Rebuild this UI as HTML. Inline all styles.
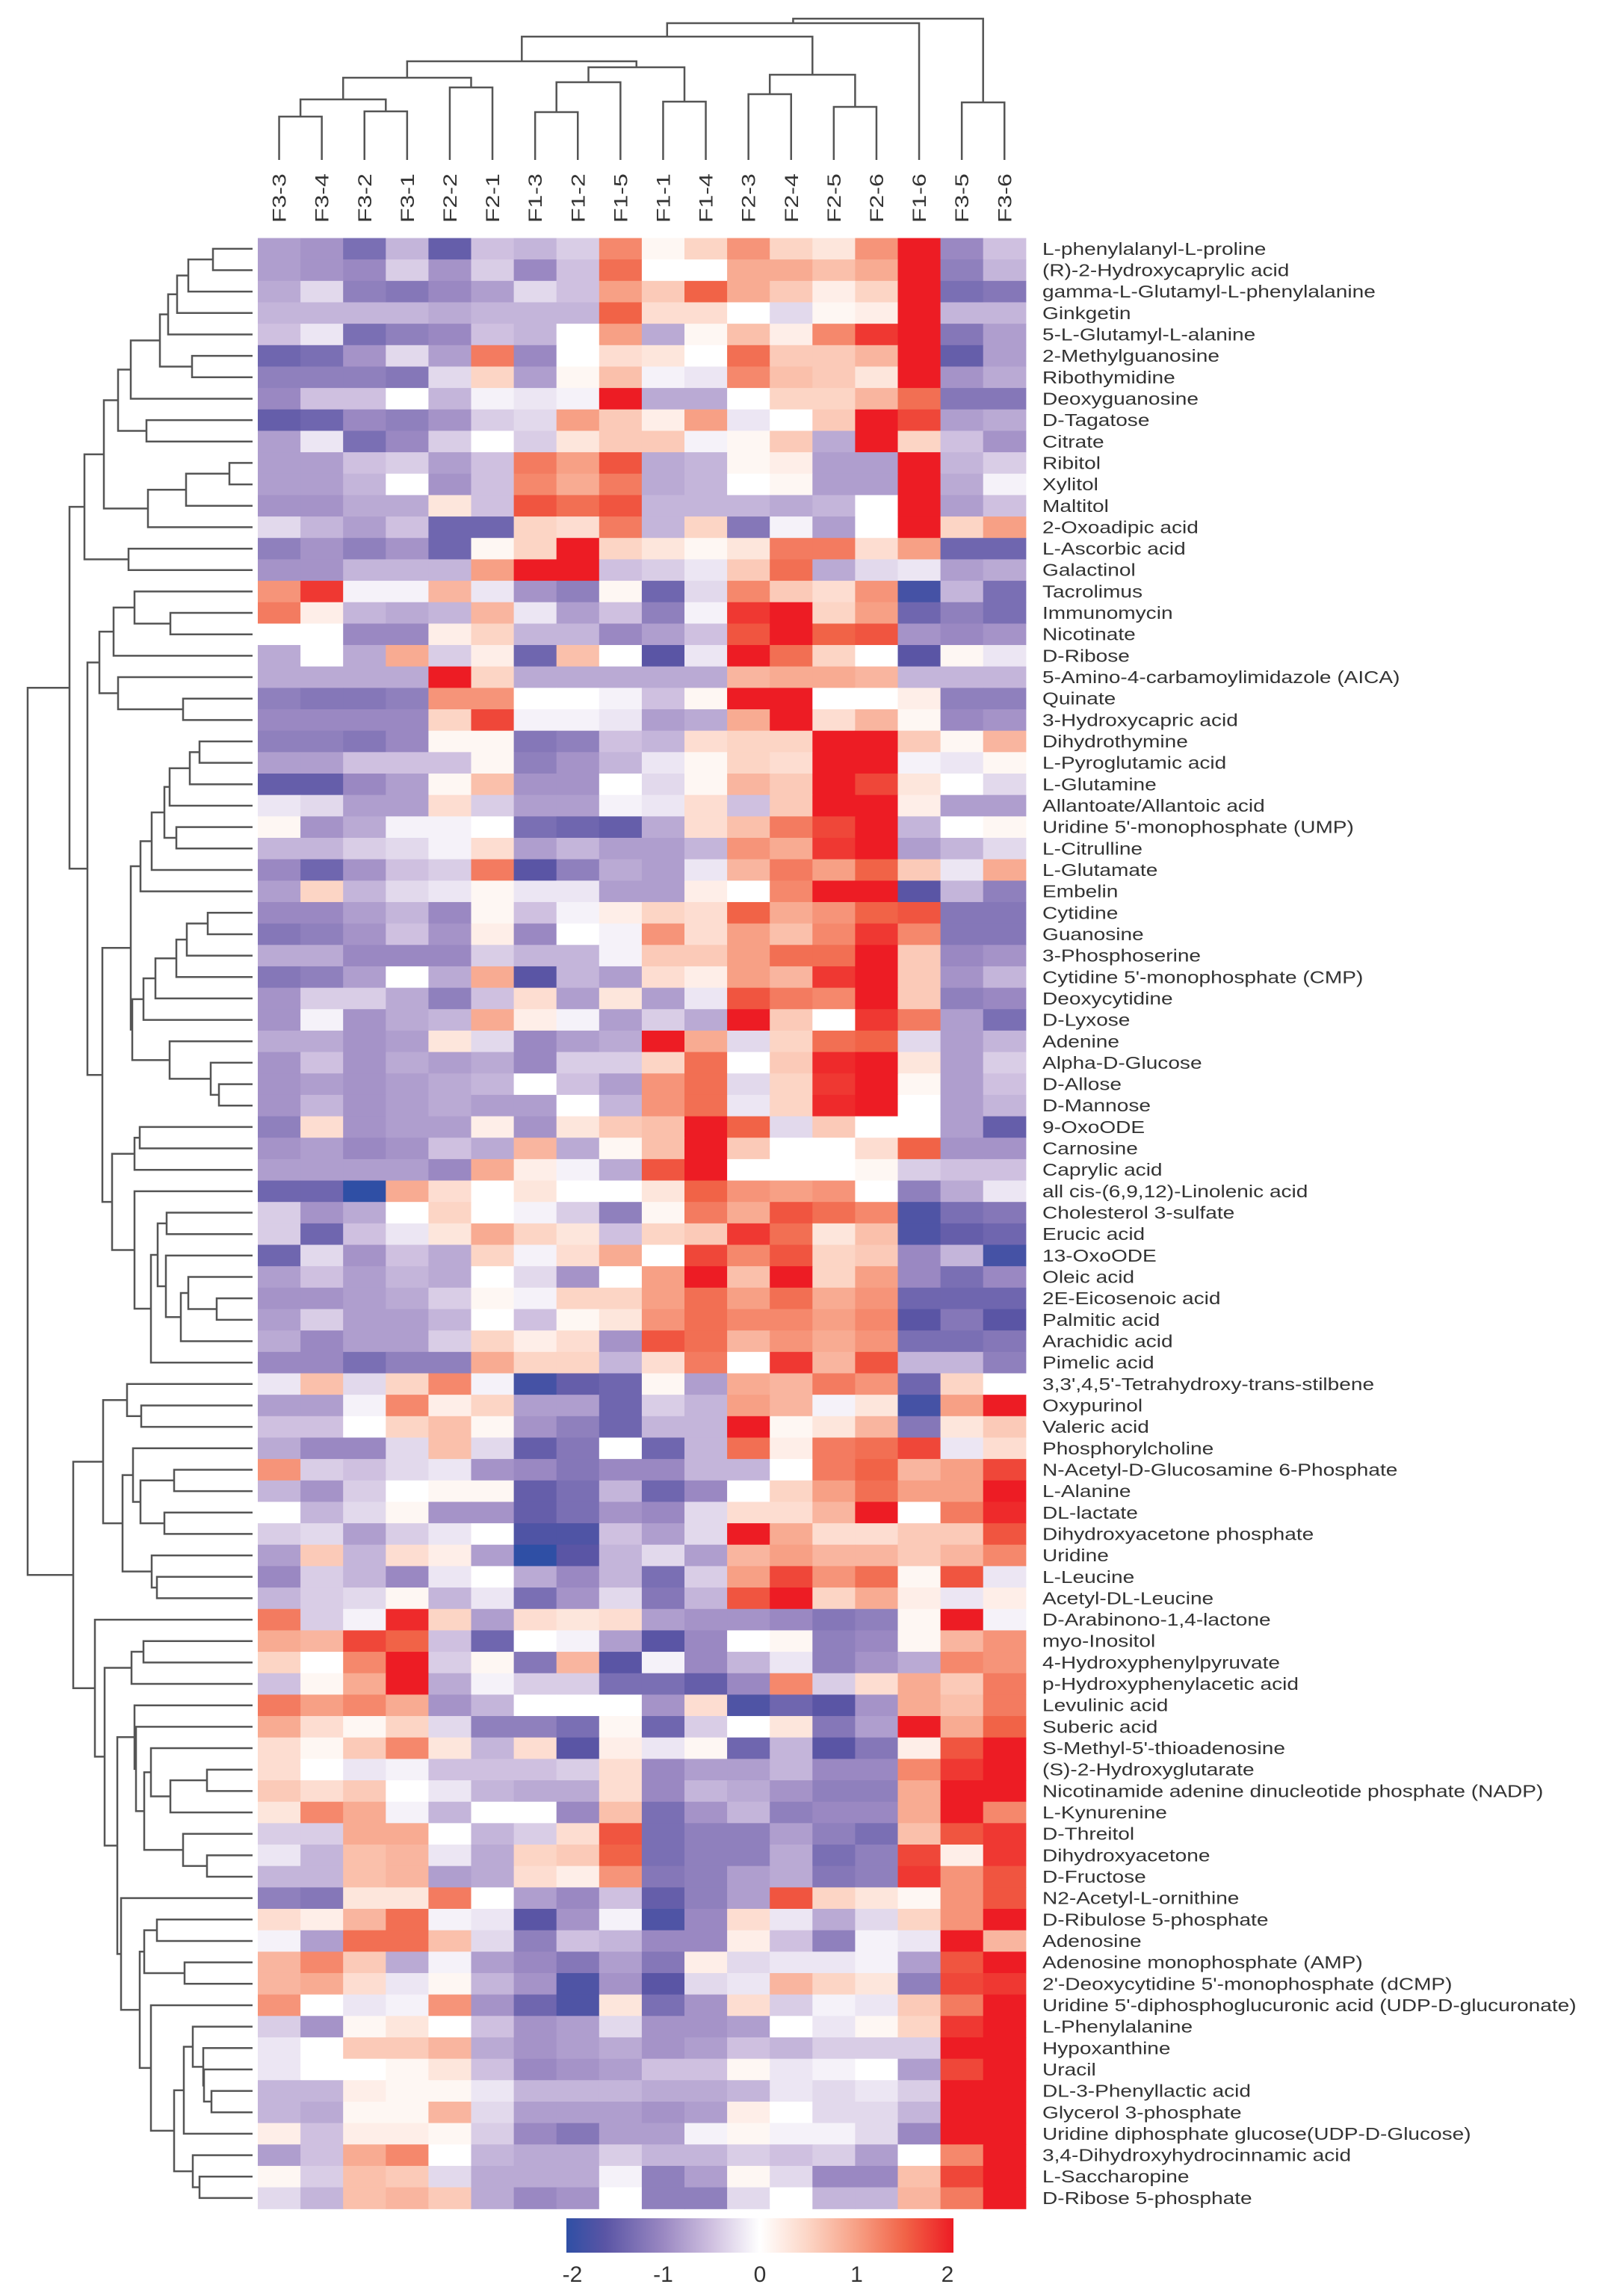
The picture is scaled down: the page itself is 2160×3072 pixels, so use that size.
<!DOCTYPE html>
<html><head><meta charset="utf-8"><title>Metabolite heatmap</title>
<style>
html,body{margin:0;padding:0;background:#fff;}
svg{display:block;}
text{font-family:"Liberation Sans",Arial,sans-serif;fill:#333;}
</style></head>
<body>
<svg id="chart" width="2160" height="3072" viewBox="0 0 2160 3072" xmlns="http://www.w3.org/2000/svg">
<defs>
<linearGradient id="cbar" x1="0" x2="1" y1="0" y2="0">
<stop offset="0" stop-color="#2f4fa5"/><stop offset="0.1" stop-color="#5a55a5"/><stop offset="0.25" stop-color="#9a88c2"/><stop offset="0.375" stop-color="#cfc0e0"/><stop offset="0.5" stop-color="#ffffff"/><stop offset="0.625" stop-color="#fcd5c5"/><stop offset="0.75" stop-color="#f7a085"/><stop offset="0.875" stop-color="#f16347"/><stop offset="1" stop-color="#ed1c24"/>
</linearGradient>
</defs>
<g id="cells"></g>
<g id="rowDendro"></g>
<g id="colDendro"></g>
<g id="rowLabs"></g>
<g id="colLabs"></g>
<g id="legend">
<rect x="758" y="2968" width="518" height="46" fill="url(#cbar)"/>
</g>
</svg>
<script>
const colLabels = ["F3-3","F3-4","F3-2","F3-1","F2-2","F2-1","F1-3","F1-2","F1-5","F1-1","F1-4","F2-3","F2-4","F2-5","F2-6","F1-6","F3-5","F3-6"];
const rowLabels = ["L-phenylalanyl-L-proline","(R)-2-Hydroxycaprylic acid","gamma-L-Glutamyl-L-phenylalanine","Ginkgetin","5-L-Glutamyl-L-alanine","2-Methylguanosine","Ribothymidine","Deoxyguanosine","D-Tagatose","Citrate","Ribitol","Xylitol","Maltitol","2-Oxoadipic acid","L-Ascorbic acid","Galactinol","Tacrolimus","Immunomycin","Nicotinate","D-Ribose","5-Amino-4-carbamoylimidazole (AICA)","Quinate","3-Hydroxycapric acid","Dihydrothymine","L-Pyroglutamic acid","L-Glutamine","Allantoate/Allantoic acid","Uridine 5'-monophosphate (UMP)","L-Citrulline","L-Glutamate","Embelin","Cytidine","Guanosine","3-Phosphoserine","Cytidine 5'-monophosphate (CMP)","Deoxycytidine","D-Lyxose","Adenine","Alpha-D-Glucose","D-Allose","D-Mannose","9-OxoODE","Carnosine","Caprylic acid","all cis-(6,9,12)-Linolenic acid","Cholesterol 3-sulfate","Erucic acid","13-OxoODE","Oleic acid","2E-Eicosenoic acid","Palmitic acid","Arachidic acid","Pimelic acid","3,3',4,5'-Tetrahydroxy-trans-stilbene","Oxypurinol","Valeric acid","Phosphorylcholine","N-Acetyl-D-Glucosamine 6-Phosphate","L-Alanine","DL-lactate","Dihydroxyacetone phosphate","Uridine","L-Leucine","Acetyl-DL-Leucine","D-Arabinono-1,4-lactone","myo-Inositol","4-Hydroxyphenylpyruvate","p-Hydroxyphenylacetic acid","Levulinic acid","Suberic acid","S-Methyl-5'-thioadenosine","(S)-2-Hydroxyglutarate","Nicotinamide adenine dinucleotide phosphate (NADP)","L-Kynurenine","D-Threitol","Dihydroxyacetone","D-Fructose","N2-Acetyl-L-ornithine","D-Ribulose 5-phosphate","Adenosine","Adenosine monophosphate (AMP)","2'-Deoxycytidine 5'-monophosphate (dCMP)","Uridine 5'-diphosphoglucuronic acid (UDP-D-glucuronate)","L-Phenylalanine","Hypoxanthine","Uracil","DL-3-Phenyllactic acid","Glycerol 3-phosphate","Uridine diphosphate glucose(UDP-D-Glucose)","3,4-Dihydroxyhydrocinnamic acid","L-Saccharopine","D-Ribose 5-phosphate"];
const colorTicks = [-2,-1,0,1,2];
const values = [
[-0.8,-0.9,-1.3,-0.6,-1.5,-0.5,-0.6,-0.4,1.2,0.1,0.5,1.1,0.5,0.3,1.1,2,-1.0,-0.5],
[-0.8,-0.9,-1.0,-0.4,-0.9,-0.4,-1.0,-0.5,1.4,0,0,0.9,0.9,0.7,0.9,2,-1.1,-0.6],
[-0.7,-0.3,-1.1,-1.2,-1.0,-0.8,-0.3,-0.5,1.0,0.6,1.5,0.9,0.6,0.2,0.5,2,-1.3,-1.2],
[-0.6,-0.6,-0.6,-0.6,-0.7,-0.6,-0.6,-0.6,1.5,0.4,0.4,0,-0.3,0.1,0.2,2,-0.6,-0.6],
[-0.5,-0.2,-1.3,-1.1,-1.0,-0.5,-0.6,0,1.0,-0.7,0.1,0.7,0.2,1.2,1.8,2,-1.2,-0.8],
[-1.4,-1.3,-0.9,-0.3,-0.8,1.3,-1.0,0,0.4,0.3,0,1.4,0.6,0.6,0.8,2,-1.5,-0.8],
[-1.1,-1.1,-1.1,-1.2,-0.3,0.5,-0.8,0.1,0.7,-0.1,-0.2,1.2,0.7,0.6,0.3,2,-0.9,-0.7],
[-1.0,-0.5,-0.5,0,-0.6,-0.1,-0.2,-0.1,2,-0.7,-0.7,0,0.5,0.5,0.8,1.4,-1.2,-1.2],
[-1.5,-1.4,-1.0,-1.1,-0.9,-0.4,-0.3,1.0,0.6,0.2,1.0,-0.2,0,0.6,2,1.7,-0.8,-0.7],
[-0.8,-0.2,-1.3,-1.0,-0.4,0,-0.4,0.3,0.6,0.6,-0.1,0.1,0.6,-0.7,2,0.5,-0.5,-0.9],
[-0.8,-0.8,-0.5,-0.4,-0.8,-0.5,1.3,1.0,1.6,-0.7,-0.6,0.1,0.2,-0.8,-0.8,2,-0.6,-0.4],
[-0.8,-0.8,-0.6,0,-0.9,-0.5,1.2,0.9,1.3,-0.7,-0.6,0,0.1,-0.8,-0.8,2,-0.7,-0.1],
[-0.9,-0.9,-0.7,-0.7,0.3,-0.5,1.6,1.4,1.6,-0.6,-0.6,-0.6,-0.7,-0.6,0,2,-0.8,-0.5],
[-0.3,-0.6,-0.8,-0.5,-1.4,-1.4,0.5,0.4,1.3,-0.6,0.5,-1.2,-0.1,-0.8,0,2,0.5,1.0],
[-1.1,-0.9,-1.1,-0.9,-1.4,0.1,0.5,2,0.5,0.3,0.1,0.3,1.3,1.3,0.4,1.0,-1.4,-1.4],
[-0.9,-0.9,-0.6,-0.6,-0.6,1.0,2,2,-0.5,-0.4,-0.2,0.6,1.4,-0.7,-0.3,-0.2,-0.8,-0.7],
[1.1,1.8,-0.1,-0.1,0.8,-0.2,-0.9,-1.1,0.1,-1.4,-0.3,1.2,0.6,0.4,1.1,-1.8,-0.6,-1.3],
[1.3,0.2,-0.6,-0.7,-0.6,0.8,-0.2,-0.8,-0.5,-1.1,-0.1,1.8,2,0.5,1.0,-1.4,-1.1,-1.3],
[0,0,-1.0,-1.0,0.2,0.5,-0.6,-0.6,-1.0,-0.8,-0.5,1.6,2,1.5,1.6,-0.9,-1.0,-0.9],
[-0.7,0,-0.7,0.9,-0.4,0.2,-1.4,0.7,0,-1.6,-0.2,2,1.4,0.5,0,-1.6,0.1,-0.2],
[-0.7,-0.7,-0.7,-0.7,2,0.5,-0.7,-0.7,-0.7,-0.7,-0.7,0.8,0.9,0.9,0.8,-0.6,-0.6,-0.6],
[-1.1,-1.2,-1.2,-1.1,1.1,1.1,0,0,-0.1,-0.5,0.1,2,2,0,0,0.2,-1.1,-1.1],
[-1.0,-1.0,-1.0,-1.0,0.5,1.7,-0.1,-0.1,-0.2,-0.8,-0.7,0.9,2,0.4,0.8,0.1,-1.0,-0.9],
[-1.1,-1.1,-1.2,-1.0,0.1,0.1,-1.2,-1.1,-0.5,-0.6,0.4,0.5,0.5,2,2,0.6,0.1,0.8],
[-0.8,-0.8,-0.5,-0.5,-0.5,0.1,-1.1,-0.9,-0.6,-0.2,0.1,0.5,0.4,2,2,-0.1,-0.2,0.1],
[-1.5,-1.5,-1.0,-0.8,0.1,0.7,-0.9,-0.9,0,-0.3,0.1,0.8,0.6,2,1.7,0.3,0,-0.3],
[-0.2,-0.3,-0.8,-0.8,0.4,-0.4,-0.8,-0.8,-0.1,-0.2,0.4,-0.5,0.6,2,2,0.2,-0.8,-0.8],
[0.1,-0.9,-0.7,-0.1,-0.1,0,-1.3,-1.4,-1.5,-0.7,0.4,0.7,1.3,1.7,2,-0.6,0,0.1],
[-0.6,-0.6,-0.4,-0.3,-0.1,0.4,-0.8,-0.6,-0.8,-0.8,-0.6,1.1,0.9,1.8,2,-0.8,-0.6,-0.3],
[-1.0,-1.4,-0.9,-0.5,-0.4,1.3,-1.6,-1.1,-0.7,-0.8,-0.2,0.8,1.3,1.0,1.5,0.6,-0.2,0.9],
[-0.8,0.5,-0.6,-0.3,-0.2,0.1,-0.2,-0.2,-0.8,-0.8,0.2,0,1.2,2,2,-1.6,-0.6,-1.1],
[-1.0,-1.0,-0.8,-0.6,-1.0,0.1,-0.5,-0.1,0.2,0.5,0.4,1.5,0.9,1.1,1.5,1.6,-1.2,-1.2],
[-1.2,-1.1,-0.9,-0.5,-0.9,0.2,-1.0,0,-0.1,1.1,0.4,1.0,0.7,1.2,1.8,1.2,-1.2,-1.2],
[-0.7,-0.7,-1.0,-1.0,-1.0,-0.4,-0.6,-0.6,-0.1,0.6,0.6,1.0,1.4,1.4,2,0.6,-1.0,-0.9],
[-1.2,-1.1,-0.8,0,-0.7,0.9,-1.6,-0.6,-0.8,0.4,0.2,1.0,0.8,1.8,2,0.6,-0.9,-0.6],
[-0.9,-0.4,-0.4,-0.7,-1.1,-0.5,0.4,-0.8,0.3,-0.8,-0.2,1.6,1.3,1.2,2,0.6,-1.1,-1.0],
[-0.9,-0.1,-0.9,-0.7,-0.6,0.9,0.2,-0.1,-0.8,-0.4,-0.7,2,0.6,0,1.8,1.3,-0.8,-1.3],
[-0.7,-0.7,-0.9,-0.8,0.3,-0.3,-1.0,-0.8,-0.7,2,0.9,-0.3,0.5,1.4,1.5,-0.3,-0.8,-0.6],
[-0.9,-0.5,-0.9,-0.7,-0.8,-0.7,-1.0,-0.4,-0.4,0.5,1.4,0,0.6,1.9,2,0.3,-0.8,-0.4],
[-0.9,-0.8,-0.9,-0.8,-0.7,-0.6,0,-0.5,-0.8,1.1,1.4,-0.3,0.5,1.8,2,0.1,-0.8,-0.5],
[-0.9,-0.6,-0.9,-0.8,-0.7,-0.8,-0.8,0,-0.6,1.1,1.4,-0.2,0.5,1.9,2,0,-0.8,-0.6],
[-1.1,0.4,-0.9,-0.8,-0.8,0.2,-0.9,0.3,0.6,0.7,2,1.5,-0.3,0.6,0,0,-0.8,-1.5],
[-0.9,-0.8,-1.0,-0.9,-0.5,-0.7,0.8,-0.7,0.1,0.7,2,0.6,0,0,0.4,1.5,-0.9,-0.9],
[-0.8,-0.8,-0.8,-0.8,-1.0,0.9,0.2,-0.1,-0.7,1.6,2,0,0,0,0.1,-0.4,-0.5,-0.5],
[-1.4,-1.4,-2,0.9,0.4,0,0.3,0,0,0.3,1.5,1.1,1.0,1.1,0,-1.1,-0.7,-0.2],
[-0.4,-0.9,-0.7,0,0.5,0,-0.1,-0.4,-1.1,0.1,1.3,0.9,1.6,1.4,1.2,-1.7,-1.3,-1.2],
[-0.4,-1.4,-0.5,-0.2,0.3,0.9,0.5,0.3,-0.5,0.5,0.6,1.8,1.4,0.3,0.7,-1.7,-1.5,-1.4],
[-1.4,-0.3,-0.9,-0.5,-0.7,0.5,-0.1,0.4,0.9,0,1.7,1.2,1.6,0.5,0.6,-1.0,-0.6,-1.8],
[-0.8,-0.5,-0.8,-0.6,-0.7,0,-0.3,-0.9,0,1.0,2,0.7,2,0.5,1.0,-1.0,-1.3,-1.0],
[-0.9,-0.9,-0.8,-0.7,-0.4,0.1,-0.1,0.5,0.5,1.0,1.4,1.0,1.4,0.9,1.1,-1.4,-1.4,-1.4],
[-0.8,-0.4,-0.8,-0.8,-0.6,0,-0.5,0.1,0.3,1.1,1.4,1.2,1.2,1.0,1.2,-1.6,-1.2,-1.6],
[-0.7,-1.0,-0.8,-0.8,-0.4,0.5,0.2,0.4,-0.9,1.6,1.4,0.8,1.1,0.9,1.1,-1.3,-1.3,-1.2],
[-1.0,-1.0,-1.3,-1.1,-1.1,0.9,0.5,0.5,-0.6,0.4,1.3,0,1.8,0.8,1.6,-0.6,-0.6,-1.1],
[-0.2,0.7,-0.3,0.5,1.2,-0.1,-1.8,-1.5,-1.4,0.1,-0.8,0.9,0.8,1.3,1.1,-1.4,0.5,0],
[-0.8,-0.8,-0.1,1.2,0.2,0.5,-0.8,-0.8,-1.4,-0.4,-0.6,1.0,0.8,-0.1,0.3,-1.8,1.0,2],
[-0.5,-0.5,0,0.5,0.7,0.1,-0.9,-1.1,-1.4,-0.6,-0.6,2,0.1,0.3,0.8,-1.2,0.3,0.6],
[-0.7,-1.0,-1.0,-0.3,0.7,-0.3,-1.5,-1.2,0,-1.4,-0.6,1.4,0.2,1.3,1.4,1.7,-0.2,0.4],
[1.1,-0.4,-0.5,-0.3,-0.2,-0.9,-1.0,-1.2,-1.0,-1.0,-0.6,-0.6,0,1.3,1.5,0.8,1.0,1.7],
[-0.6,-0.9,-0.4,0,0.1,0.1,-1.5,-1.3,-0.6,-1.4,-1.0,0,0.5,1.0,1.4,1.0,1.0,2],
[0,-0.6,-0.3,0.1,-0.9,-0.9,-1.5,-1.3,-0.9,-1.0,-0.3,0.4,0.4,0.8,2,0,1.3,1.9],
[-0.4,-0.3,-0.8,-0.4,-0.2,0,-1.7,-1.7,-0.5,-0.8,-0.3,2,0.9,0.4,0.4,0.6,0.6,1.6],
[-0.8,0.6,-0.6,0.4,0.2,-0.8,-2,-1.6,-0.6,-0.3,-0.8,0.8,1.0,0.8,0.8,0.6,0.8,1.2],
[-1.0,-0.4,-0.6,-1.0,-0.2,0,-0.7,-1.0,-0.6,-1.3,-0.4,1.0,1.7,1.1,1.4,0.1,1.6,-0.2],
[-0.6,-0.4,-0.3,0.1,-0.6,-0.2,-1.3,-0.9,-0.3,-1.2,-0.6,1.6,2,0.5,0.9,0.2,-0.2,0.2],
[1.3,-0.4,-0.1,1.9,0.5,-0.8,0.4,0.3,0.4,-0.8,-0.9,-0.9,-1.0,-1.2,-1.1,0.1,2,-0.1],
[0.9,0.8,1.7,1.5,-0.5,-1.4,0,-0.1,-0.8,-1.6,-1.0,0,0.1,-1.1,-1.0,0.1,0.8,1.1],
[0.5,0,1.2,2,-0.4,0.1,-1.2,0.8,-1.6,-0.1,-1.0,-0.6,-0.2,-1.1,-0.9,-0.7,1.2,1.1],
[-0.5,0.1,0.9,2,-0.7,-0.1,-0.4,-0.4,-1.3,-1.3,-1.5,-1.0,1.2,-0.4,0.4,0.9,0.6,1.3],
[1.3,1.0,1.2,0.9,-0.9,-0.6,0,0,0,-0.9,0.4,-1.7,-1.4,-1.6,-0.9,0.9,0.7,1.3],
[0.9,0.4,0.1,0.5,-0.3,-1.1,-1.1,-1.3,0.1,-1.4,-0.4,0,0.3,-1.2,-0.8,2,0.9,1.5],
[0.4,0.1,0.6,1.2,0.3,-0.6,0.4,-1.6,0.2,-0.2,0.1,-1.4,-0.6,-1.6,-1.2,0.2,1.6,2],
[0.4,0,-0.2,-0.1,-0.5,-0.5,-0.5,-0.4,0.4,-1.0,-0.8,-0.8,-0.6,-1.0,-1.0,1.2,1.8,2],
[0.6,0.4,0.6,0,-0.2,-0.6,-0.7,-0.7,0.4,-1.0,-0.6,-0.7,-0.9,-1.1,-1.1,0.9,2,2],
[0.3,1.2,0.9,-0.1,-0.6,0,0,-1.0,0.7,-1.3,-0.9,-0.6,-1.1,-1.0,-1.0,0.9,2,1.2],
[-0.4,-0.4,0.9,0.9,0,-0.6,-0.4,0.4,1.6,-1.3,-1.1,-1.1,-0.8,-1.1,-1.3,0.7,1.6,1.8],
[-0.2,-0.6,0.7,0.8,-0.2,-0.7,0.5,0.6,1.5,-1.3,-1.1,-1.1,-0.7,-1.3,-1.1,1.7,0.2,1.8],
[-0.6,-0.6,0.7,0.8,-0.8,-0.7,0.4,0.2,1.1,-1.2,-1.1,-0.8,-0.7,-1.2,-1.1,1.8,1.1,1.6],
[-1.1,-1.2,0.3,0.3,1.3,0,-0.8,-1.0,-0.5,-1.5,-1.1,-0.8,1.6,0.5,0.3,0.1,1.1,1.6],
[0.4,0.2,0.8,1.4,-0.1,-0.2,-1.6,-0.9,-0.1,-1.7,-1.0,0.4,-0.2,-0.7,-0.3,0.5,1.1,2],
[-0.1,-0.8,1.4,1.4,0.7,-0.3,-1.1,-0.5,-0.6,-1.0,-1.0,0.2,-0.5,-1.1,-0.1,-0.2,2,0.8],
[0.8,1.2,0.6,-0.7,-0.1,-0.8,-1.0,-1.2,-0.8,-1.2,0.2,-0.3,-0.2,-0.2,-0.1,-0.8,1.6,2],
[0.8,0.9,0.4,-0.2,0.1,-0.6,-0.9,-1.7,-0.9,-1.6,-0.3,-0.2,0.8,0.5,0.3,-1.1,1.7,1.8],
[1.1,0,-0.2,-0.1,1.1,-0.9,-1.4,-1.7,0.3,-1.3,-0.9,0.4,-0.4,-0.1,-0.2,0.6,1.3,2],
[-0.4,-0.9,0.1,0.3,0,-0.5,-0.9,-0.8,-0.3,-0.9,-0.9,-0.8,0,-0.2,0.1,0.5,1.8,2],
[-0.2,0,0.6,0.6,0.8,-0.7,-0.9,-0.8,-0.7,-0.9,-0.8,-0.5,-0.6,-0.4,-0.4,-0.4,2,2],
[-0.2,0,0,0.1,0.3,-0.5,-1.0,-0.9,-0.8,-0.5,-0.5,0.1,-0.2,-0.1,0,-0.8,1.7,2],
[-0.6,-0.6,0.2,0.1,0.1,-0.2,-0.6,-0.6,-0.6,-0.7,-0.7,-0.6,-0.2,-0.3,-0.2,-0.4,2,2],
[-0.6,-0.7,0.1,0.1,0.8,-0.3,-0.8,-0.8,-0.8,-0.9,-0.8,0.2,0,-0.3,-0.3,-0.6,2,2],
[0.2,-0.5,0.2,0.2,0.1,-0.4,-1.0,-1.2,-0.8,-0.8,-0.1,0.1,-0.1,-0.1,-0.3,-1.0,2,2],
[-0.8,-0.5,0.9,1.2,0,-0.6,-0.7,-0.7,-0.4,-0.6,-0.6,-0.4,-0.5,-0.4,-0.8,0,1.2,2],
[0.1,-0.4,0.7,0.6,-0.3,-0.7,-0.7,-0.7,-0.1,-1.1,-0.8,0.1,-0.3,-1.0,-1.0,0.7,1.7,2],
[-0.3,-0.6,0.7,0.8,0.6,-0.7,-1.0,-0.9,0,-1.1,-1.1,-0.3,0,-0.6,-0.6,0.8,1.3,2]
];
// dendrogram merge structures: [height, left, right]; leaves are indices
const rowTree = [37,
 [93,
  [113,[139,[158,[175,[214,[225,[237,[252,[285,0,1],2],3],4],[257,5,6]],7],[196,8,9]],[198,[249,[307,10,11],12],13]],[172,14,15]],
  [117,
   [133,[152,[180,16,[228,17,18]],19],[158,20,[245,21,22]]],
   [137,
    [175,[188,[203,[220,[227,[254,[267,23,24],25],26],[236,27,28]],29],30],
         [177,[192,[208,[236,[250,[278,31,32],33],34],35],36],[227,37,[282,38,[293,39,40]]]]],
    [150,[180,[187,41,42],43],[180,44,[202,[211,[223,45,46],[222,47,[242,[252,48,[290,49,50]],51]]],52]]]]]],
 [98,
  [138,[170,53,[189,54,55]],[164,[178,56,[188,[233,57,58],[220,59,60]]],[203,61,[210,62,63]]]],
  [127,64,
   [140,[176,[192,65,66],67],
    [157,[180,68,[182,69,[193,[202,70,[228,[277,71,72],73]],[245,74,[277,75,76]]]]],
     [162,77,[187,[193,[210,78,79],[247,80,81]],[202,82,[233,[246,[258,83,[272,84,[273,85,[283,86,87]]]],88],[258,89,[267,90,91]]]]]]]]]]];
const colTree = [25,[31,[49,[82,[104,[133,[156,0,1],[149,2,3]],[117,4,5]],[90,[110,[150,6,7],8],[136,9,10]]],[100,[126,11,12],[143,13,14]]],15],[137,16,17]];

const NS="http://www.w3.org/2000/svg";
const X0=345, CW=57.1, Y0=318.5, RH=28.66;
const nR=values.length, nC=colLabels.length;
const xScale = c => X0 + c*CW;
const yScale = r => Y0 + r*RH*(92/nR);
const rh = RH*(92/nR);
const stops=[[-2,[47,79,165]],[-1.6,[90,85,165]],[-1,[154,136,194]],[-0.5,[207,192,224]],[0,[255,255,255]],[0.5,[252,213,197]],[1,[247,160,133]],[1.5,[241,99,71]],[2,[237,28,36]]];
function color(v){
  v=Math.max(-2,Math.min(2,v));
  for(let i=0;i<stops.length-1;i++){
    const [a,ca]=stops[i],[b,cb]=stops[i+1];
    if(v<=b){const t=(v-a)/(b-a);return 'rgb('+ca.map((c,k)=>Math.round(c+(cb[k]-c)*t)).join(',')+')';}
  }
  return 'rgb(237,28,36)';
}
function mk(tag,attrs,parent){const e=document.createElementNS(NS,tag);for(const k in attrs)e.setAttribute(k,attrs[k]);parent.appendChild(e);return e;}

const cells=document.getElementById('cells');
for(let r=0;r<nR;r++){for(let c=0;c<nC;c++){
  const el=mk('rect',{x:xScale(c).toFixed(2),y:yScale(r).toFixed(2),width:(CW+0.6).toFixed(2),height:(rh+0.6).toFixed(2),fill:color(values[r][c])},cells);
  
  
}}

// row labels
const rl=document.getElementById('rowLabs');
rowLabels.forEach((t,i)=>{
  const el=mk('text',{transform:'translate(1395,'+(yScale(i)+rh/2+8).toFixed(1)+') scale(1.22,1)','font-size':'23'},rl);
  el.textContent=t;
  
  
});
// column labels
const cl=document.getElementById('colLabs');
colLabels.forEach((t,i)=>{
  const cx=xScale(i)+CW/2+9;
  const el=mk('text',{transform:'translate('+cx.toFixed(1)+',298) rotate(-90) scale(1.28,1)','font-size':'25'},cl);
  el.textContent=t;
  
  
});
// color ticks
const lg=document.getElementById('legend');
colorTicks.forEach(v=>{
  const x=758+(v+2)/4*518;
  const el=mk('text',{x:(x+ (v===-2?8:(v===2?-8:0))).toFixed(1),y:'3053','font-size':'30','text-anchor':'middle'},lg);
  el.textContent=String(v);
  
  
});

// row dendrogram
const rd=document.getElementById('rowDendro');
const LEAFX=338;
function drawRow(n){
  if(typeof n==='number') return {x:LEAFX,y:yScale(n)+rh/2};
  const a=drawRow(n[1]), b=drawRow(n[2]), h=n[0];
  const p=mk('path',{d:'M'+a.x+','+a.y+'H'+h+'V'+b.y+'H'+b.x,fill:'none',stroke:'#555','stroke-width':'2.5'},rd);
  
  
  return {x:h,y:(a.y+b.y)/2};
}
drawRow(rowTree);
// column dendrogram
const cd=document.getElementById('colDendro');
const LEAFY=214;
function drawCol(n){
  if(typeof n==='number') return {x:xScale(n)+CW/2,y:LEAFY};
  const a=drawCol(n[1]), b=drawCol(n[2]), h=n[0];
  const p=mk('path',{d:'M'+a.x+','+a.y+'V'+h+'H'+b.x+'V'+b.y,fill:'none',stroke:'#555','stroke-width':'2.5'},cd);
  
  
  return {x:(a.x+b.x)/2,y:h};
}
drawCol(colTree);
</script>
</body></html>
